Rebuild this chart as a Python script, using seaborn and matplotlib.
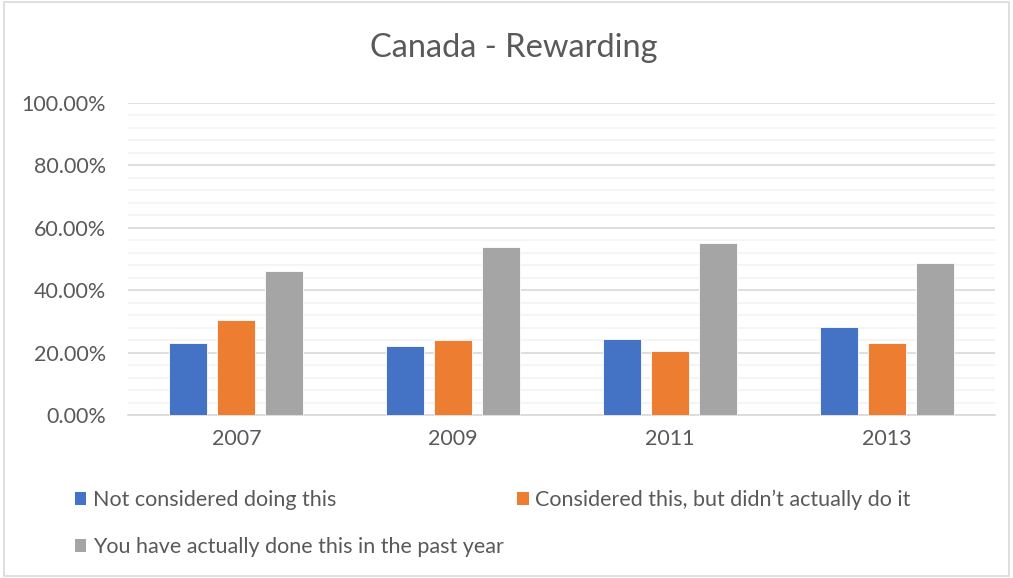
import matplotlib
matplotlib.use("Agg")
import matplotlib.pyplot as plt
from matplotlib.patches import Rectangle, Patch
from matplotlib.ticker import MultipleLocator, FuncFormatter
import seaborn as sns
import pandas as pd

years = ["2007", "2009", "2011", "2013"]
not_considered = [23.1, 22.1, 24.4, 28.1]
considered_not_done = [30.6, 23.9, 20.5, 23.0]
done_past_year = [46.3, 53.9, 55.0, 48.7]

series_names = [
    "Not considered doing this",
    "Considered this, but didn\u2019t actually do it",
    "You have actually done this in the past year",
]
series_colors = ["#4472C4", "#ED7D31", "#A5A5A5"]

rows = []
for name, vals in zip(series_names, [not_considered, considered_not_done, done_past_year]):
    for yr, v in zip(years, vals):
        rows.append({"year": yr, "series": name, "value": v})
df = pd.DataFrame(rows)

sns.set_theme(style="white")
plt.rcParams["font.family"] = ["Lato", "DejaVu Sans"]
text_color = "#595959"

fig = plt.figure(figsize=(10.13, 5.78), dpi=100)
ax = fig.add_axes([128 / 1013, 1 - 415 / 578, (995 - 128) / 1013, (415 - 103) / 578])

sns.barplot(
    data=df, x="year", y="value", hue="series", order=years, hue_order=series_names,
    palette=series_colors, width=0.664, gap=0.21, saturation=1, ax=ax,
    edgecolor="white", linewidth=0.6, legend=False, errorbar=None, zorder=3,
)

ax.set_xlim(-0.5, 3.5)
ax.set_ylim(0, 100)
ax.yaxis.set_major_locator(MultipleLocator(20))
ax.yaxis.set_minor_locator(MultipleLocator(4))
ax.yaxis.set_major_formatter(FuncFormatter(lambda v, p: f"{v:.2f}%"))
ax.grid(axis="y", which="major", color="#D9D9D9", linewidth=1.2, zorder=1)
ax.grid(axis="y", which="minor", color="#F2F2F2", linewidth=1.2, zorder=0)
ax.set_axisbelow(True)
for s in ["top", "right", "left"]:
    ax.spines[s].set_visible(False)
ax.spines["bottom"].set_color("#D9D9D9")
ax.spines["bottom"].set_linewidth(1.2)
ax.tick_params(axis="both", which="both", length=0, labelsize=15.5, labelcolor=text_color)
ax.tick_params(axis="y", pad=16)
ax.tick_params(axis="x", pad=10)
ax.set_xlabel("")
ax.set_ylabel("")

fig.text(0.507, 1 - 48 / 578, "Canada - Rewarding", ha="center", va="center",
         fontsize=23.5, color=text_color)

handles = [Patch(facecolor=c, edgecolor="none") for c in series_colors]
order = [0, 2, 1]
fig.legend(
    [handles[i] for i in order], [series_names[i] for i in order],
    ncol=2, loc="upper left", bbox_to_anchor=(66 / 1013, 1 - 481 / 578),
    frameon=False, fontsize=15.5, labelcolor=text_color,
    handlelength=0.55, handleheight=0.55, handletextpad=0.3,
    columnspacing=0.6, labelspacing=1.26, borderaxespad=0,
)

fig.patches.append(Rectangle((4 / 1013, 2 / 578), 1005 / 1013, 574 / 578,
                             transform=fig.transFigure, fill=False,
                             edgecolor="#D9D9D9", linewidth=1.2))

fig.savefig("out.png", dpi=100)
